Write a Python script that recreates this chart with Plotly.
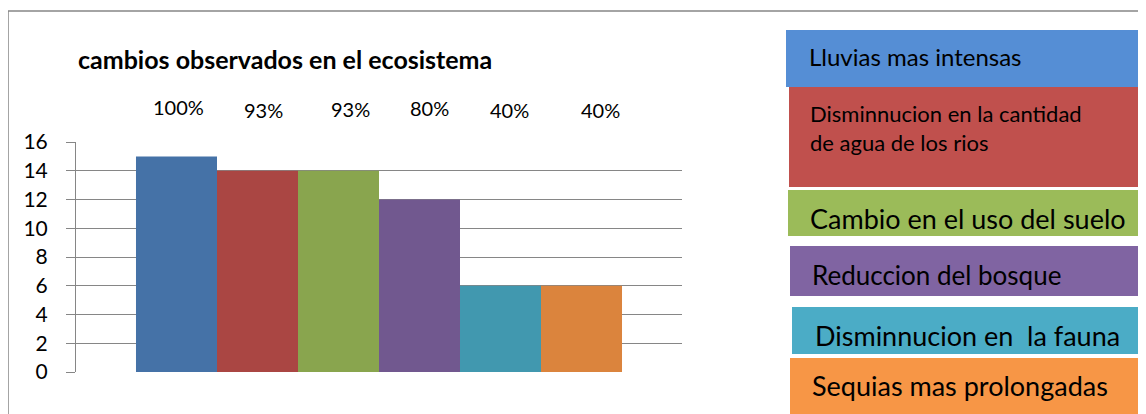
import plotly.graph_objects as go

# ---------------- data ----------------
categories = ["Lluvias mas intensas",
              "Disminnucion en la cantidad de agua de los rios",
              "Cambio en el uso del suelo",
              "Reduccion del bosque",
              "Disminnucion en  la fauna",
              "Sequias mas prolongadas"]
values = [15, 14, 14, 12, 6, 6]
percent_labels = ["100%", "93%", "93%", "80%", "40%", "40%"]
box_labels = ["Lluvias mas intensas",
              "Disminnucion en la cantidad<br>de agua de los rios",
              "Cambio en el uso del suelo",
              "Reduccion del bosque",
              "Disminnucion en&nbsp; la fauna",
              "Sequias mas prolongadas"]
y_ticks = [0, 2, 4, 6, 8, 10, 12, 14, 16]
chart_title = "cambios observados en el ecosistema"

# ---------------- styles ----------------
bar_colors = ["#4572A7", "#AA4643", "#89A54E", "#71588F", "#4198AF", "#DB843D"]
box_colors = ["#558ED5", "#C0504D", "#9BBB59", "#8064A2", "#4BACC6", "#F79646"]
FONT = "Lato, 'Open Sans', sans-serif"

# page body has an 8px margin: figure drawn at (8, 8)
OFF = 8
W, H = 1146 - OFF, 414 - OFF
# plot area in screenshot pixel coordinates
L, R, T, B = 76, 682, 142, 372


def px(x):
    return (x - L) / (R - L)


def py(y):
    return (B - y) / (B - T)


fig = go.Figure()
for name, v, c in zip(categories, values, bar_colors):
    fig.add_trace(go.Bar(x=[""], y=[v], name=name, marker=dict(color=c, line=dict(width=0)),
                         showlegend=False, hoverinfo="y+name"))

fig.update_layout(
    width=W, height=H,
    margin=dict(l=L - OFF, r=W - (R - OFF), t=T - OFF, b=H - (B - OFF), pad=0),
    paper_bgcolor="white", plot_bgcolor="white",
    barmode="group", bargap=0.198, bargroupgap=0,
    font=dict(family=FONT, color="black"),
    xaxis=dict(showticklabels=False, showgrid=False, zeroline=False, showline=False,
               ticks=""),
    yaxis=dict(range=[0, 16], tickvals=y_ticks, showgrid=True, gridcolor="#868686", gridwidth=1,
               showline=True, linecolor="#868686", linewidth=1, zeroline=False,
               ticks="outside", ticklen=9, tickcolor="#868686", tickwidth=1,
               tickfont=dict(size=21, family=FONT, color="black"), ticklabelstandoff=14),
)

shapes = []
# outer chart border
shapes.append(dict(type="rect", xref="paper", yref="paper", x0=px(8), x1=px(1160), y0=py(430), y1=py(11),
                   line=dict(color="#868686", width=1.5), fillcolor="rgba(0,0,0,0)", layer="above"))

# legend-like coloured boxes
box_rects = [(786, 30, 1160, 87), (789, 87, 1143, 187), (788, 190, 1142, 236),
             (790, 246, 1143, 296), (792, 307, 1160, 354), (790, 358, 1140, 430)]
box_text_pos = [(807, 57, 24), (808, 128, 22), (808, 218, 27), (810, 275, 26), (813, 335, 27), (810, 385, 27)]
annotations = []
for (x0, y0, x1, y1), col, lab, (tx, ty, fs) in zip(box_rects, box_colors, box_labels, box_text_pos):
    shapes.append(dict(type="rect", xref="paper", yref="paper", x0=px(x0), x1=px(x1), y0=py(y1), y1=py(y0),
                       line=dict(width=0), fillcolor=col, layer="above"))
    annotations.append(dict(text=lab, xref="paper", yref="paper", x=px(tx), y=py(ty), xanchor="left",
                            yanchor="middle", showarrow=False, align="left",
                            font=dict(size=fs, family=FONT, color="black")))

# title
annotations.append(dict(text="<b>" + chart_title + "</b>", xref="paper", yref="paper", x=px(76), y=py(59),
                        xanchor="left", yanchor="middle", showarrow=False,
                        font=dict(size=25, family=FONT, color="black")))

# percent labels above the bars
pct_pos = [(178, 107), (263, 110), (350, 109), (429, 108), (509, 110), (600, 110)]
for lab, (tx, ty) in zip(percent_labels, pct_pos):
    annotations.append(dict(text=lab, xref="paper", yref="paper", x=px(tx), y=py(ty), xanchor="center",
                            yanchor="middle", showarrow=False, font=dict(size=20, family=FONT, color="black")))

fig.update_layout(shapes=shapes, annotations=annotations)
fig.write_html("out.html")
